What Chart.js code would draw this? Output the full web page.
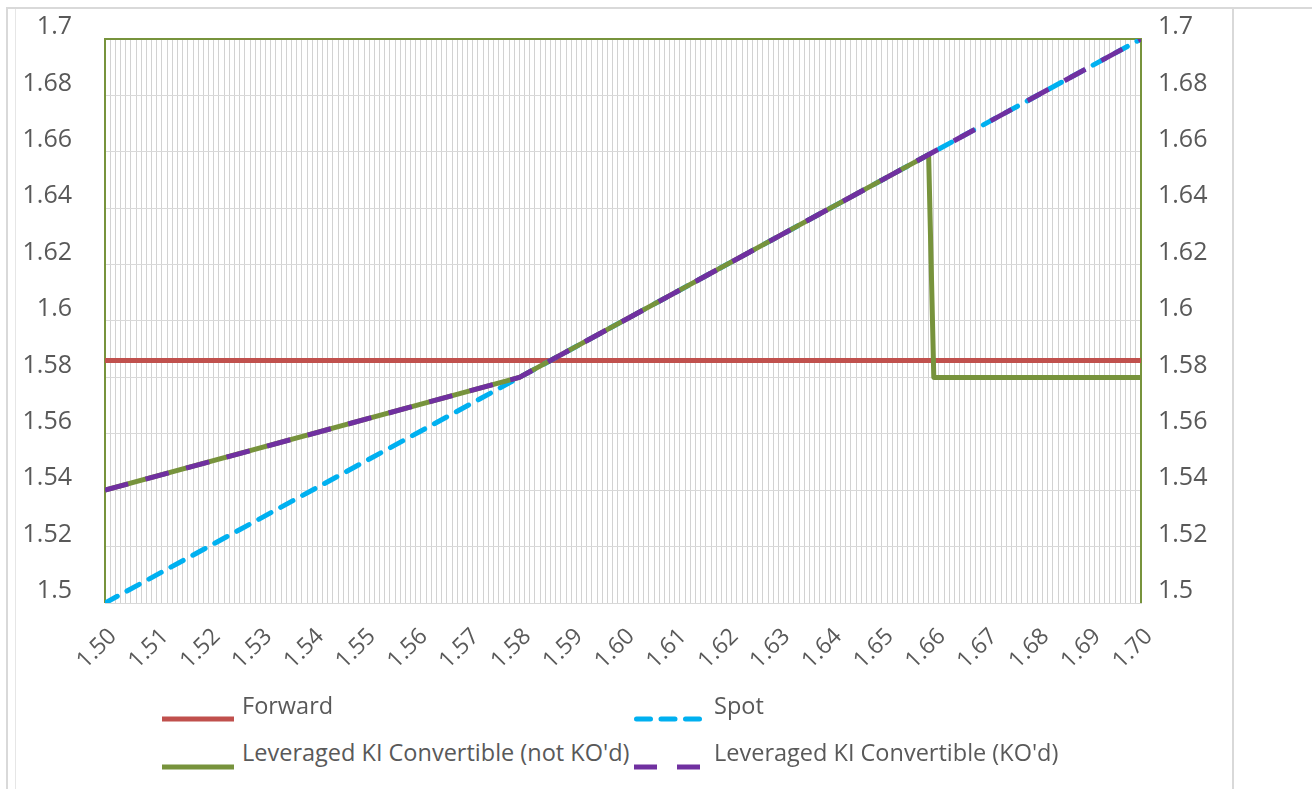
<!DOCTYPE html>
<html>
<head>
<meta charset="utf-8">
<script src="https://cdn.jsdelivr.net/npm/chart.js@4.4.1/dist/chart.umd.min.js"></script>
<style>
  html, body { margin: 0; padding: 0; background: #ffffff; }
  body { width: 1312px; height: 789px; position: relative; overflow: hidden; font-family: 'Open Sans', sans-serif; }
  .edge { position: absolute; background: #d9d9d9; }
  #chartBox { position: absolute; left: 0; top: 0; width: 1312px; height: 690px; }
  .lg-key { position: absolute; width: 72px; height: 10px; }
  .lg-text { position: absolute; font-size: 23.5px; line-height: 1; color: #595959; white-space: nowrap; }
</style>
</head>
<body>
<div class="edge" style="left:6px;top:7px;width:1306px;height:2px;"></div>
<div class="edge" style="left:6px;top:7px;width:2px;height:782px;"></div>
<div class="edge" style="left:15px;top:9px;width:1px;height:780px;background:#e6e6e6;"></div>
<div class="edge" style="left:1232px;top:7px;width:2px;height:782px;"></div>
<div id="chartBox"><canvas id="payoffChart" width="1312" height="690"></canvas></div>
<div id="legend"></div>

<script>
'use strict';

/* ── Data (x = spot at expiry, y = effective rate) ── */
var seriesNames = ['Forward', 'Spot', 'Leveraged KI Convertible (not KO\'d)', 'Leveraged KI Convertible (KO\'d)'];

var forwardX = [1.50, 1.70];
var forwardY = [1.586, 1.586];

var spotX = [1.50, 1.70];
var spotY = [1.50, 1.70];

var notKoX = [1.50, 1.58, 1.659, 1.66, 1.70];
var notKoY = [1.54, 1.58, 1.659, 1.58, 1.58];

var koX = [1.50, 1.58, 1.70];
var koY = [1.54, 1.58, 1.70];

var xMin = 1.50, xMax = 1.70, xStep = 0.001;
var yMin = 1.50, yMax = 1.70, yStep = 0.02;

var GRID = '#d9d9d9';
var VGRID = '#d2d2d2';
var TEXT = '#595959';

function pts(xs, ys) {
  return xs.map(function (x, i) { return { x: x, y: ys[i] }; });
}

/* value axes: keep the tick padding from pushing the plot area down */
function fixYAxis(width) {
  return function (s) { s.width = width; s.paddingTop = 0; s.paddingBottom = 0; };
}

/* ── Excel-style plot area frame (green top/left/right) ── */
var plotFrame = {
  id: 'plotFrame',
  beforeDatasetsDraw: function (chart) {
    var a = chart.chartArea, ctx = chart.ctx;
    ctx.save();
    ctx.strokeStyle = '#77933c';
    ctx.lineWidth = 2;
    ctx.beginPath();
    ctx.moveTo(a.left, a.bottom);
    ctx.lineTo(a.left, a.top);
    ctx.lineTo(a.right, a.top);
    ctx.lineTo(a.right, a.bottom);
    ctx.stroke();
    ctx.restore();
  }
};

var datasets = [
  { label: seriesNames[0], data: pts(forwardX, forwardY), borderColor: '#c0504d', borderWidth: 5,
    borderCapStyle: 'butt', order: 4, legendDash: null },
  { label: seriesNames[1], data: pts(spotX, spotY), borderColor: '#00b0f0', borderWidth: 5,
    borderDash: [14, 11], borderCapStyle: 'round', order: 3, legendDash: '14 10.5' },
  { label: seriesNames[2], data: pts(notKoX, notKoY), borderColor: '#77933c', borderWidth: 5,
    borderCapStyle: 'butt', order: 2, legendDash: null },
  { label: seriesNames[3], data: pts(koX, koY), borderColor: '#7030a0', borderWidth: 5,
    borderDash: [24, 18], borderCapStyle: 'butt', order: 1, legendDash: '23 20' }
];
datasets.forEach(function (d) {
  d.pointRadius = 0; d.pointHoverRadius = 0; d.tension = 0; d.fill = false; d.borderJoinStyle = 'round';
});

var chart = new Chart(document.getElementById('payoffChart'), {
  type: 'line',
  data: { datasets: datasets },
  options: {
    responsive: false, animation: false, devicePixelRatio: 1,
    layout: { padding: { left: 10, right: 91, top: 39, bottom: 0 } },
    plugins: { legend: { display: false }, tooltip: { enabled: false } },
    scales: {
      x: {
        type: 'linear', min: xMin, max: xMax,
        afterFit: function (s) { s.height = 87; },
        grid: { color: VGRID, lineWidth: 1, drawTicks: false },
        border: { color: GRID, width: 1 },
        ticks: {
          stepSize: xStep, autoSkip: false, minRotation: 45, maxRotation: 45,
          padding: 20, labelOffset: 8, color: TEXT,
          font: { family: "'Open Sans', sans-serif", size: 23 },
          callback: function (v) {
            var m = Math.round(v * 1000);
            return m % 10 === 0 ? (m / 1000).toFixed(2) : '';
          }
        }
      },
      y: {
        position: 'left', min: yMin, max: yMax,
        afterFit: fixYAxis(95),
        grid: { color: GRID, lineWidth: 1, drawTicks: false },
        border: { display: false },
        ticks: {
          stepSize: yStep, padding: 33, labelOffset: -12, color: TEXT,
          font: { family: "'Open Sans', sans-serif", size: 25 },
          callback: function (v) { return String(+v.toFixed(2)); }
        }
      },
      y2: {
        position: 'right', min: yMin, max: yMax,
        afterFit: fixYAxis(80),
        grid: { drawOnChartArea: false, drawTicks: false },
        border: { display: false },
        ticks: {
          stepSize: yStep, padding: 17, labelOffset: -12, color: TEXT,
          font: { family: "'Open Sans', sans-serif", size: 25 },
          callback: function (v) { return String(+v.toFixed(2)); }
        }
      }
    }
  },
  plugins: [plotFrame]
});

/* ── Two-column legend like the spreadsheet one ── */
(function buildLegend() {
  var box = document.getElementById('legend');
  var colLeft = [162, 634];
  var textTop = [694, 741];
  var keyMid = [719, 767];
  chart.data.datasets.forEach(function (d, i) {
    var col = i % 2, row = Math.floor(i / 2);
    var key = document.createElementNS('http://www.w3.org/2000/svg', 'svg');
    key.setAttribute('class', 'lg-key');
    key.setAttribute('width', '72');
    key.setAttribute('height', '10');
    key.style.left = colLeft[col] + 'px';
    key.style.top = (keyMid[row] - 5) + 'px';
    var ln = document.createElementNS('http://www.w3.org/2000/svg', 'line');
    var round = d.borderCapStyle === 'round';
    ln.setAttribute('x1', round ? 2.5 : 0);
    ln.setAttribute('x2', round ? 69.5 : 72);
    ln.setAttribute('y1', 5);
    ln.setAttribute('y2', 5);
    ln.setAttribute('stroke', d.borderColor);
    ln.setAttribute('stroke-width', 5);
    ln.setAttribute('stroke-linecap', d.borderCapStyle);
    if (d.legendDash) ln.setAttribute('stroke-dasharray', d.legendDash);
    key.appendChild(ln);
    box.appendChild(key);

    var t = document.createElement('div');
    t.className = 'lg-text';
    t.textContent = d.label;
    t.style.left = (colLeft[col] + 80) + 'px';
    t.style.top = textTop[row] + 'px';
    box.appendChild(t);
  });
})();
</script>
</body>
</html>
